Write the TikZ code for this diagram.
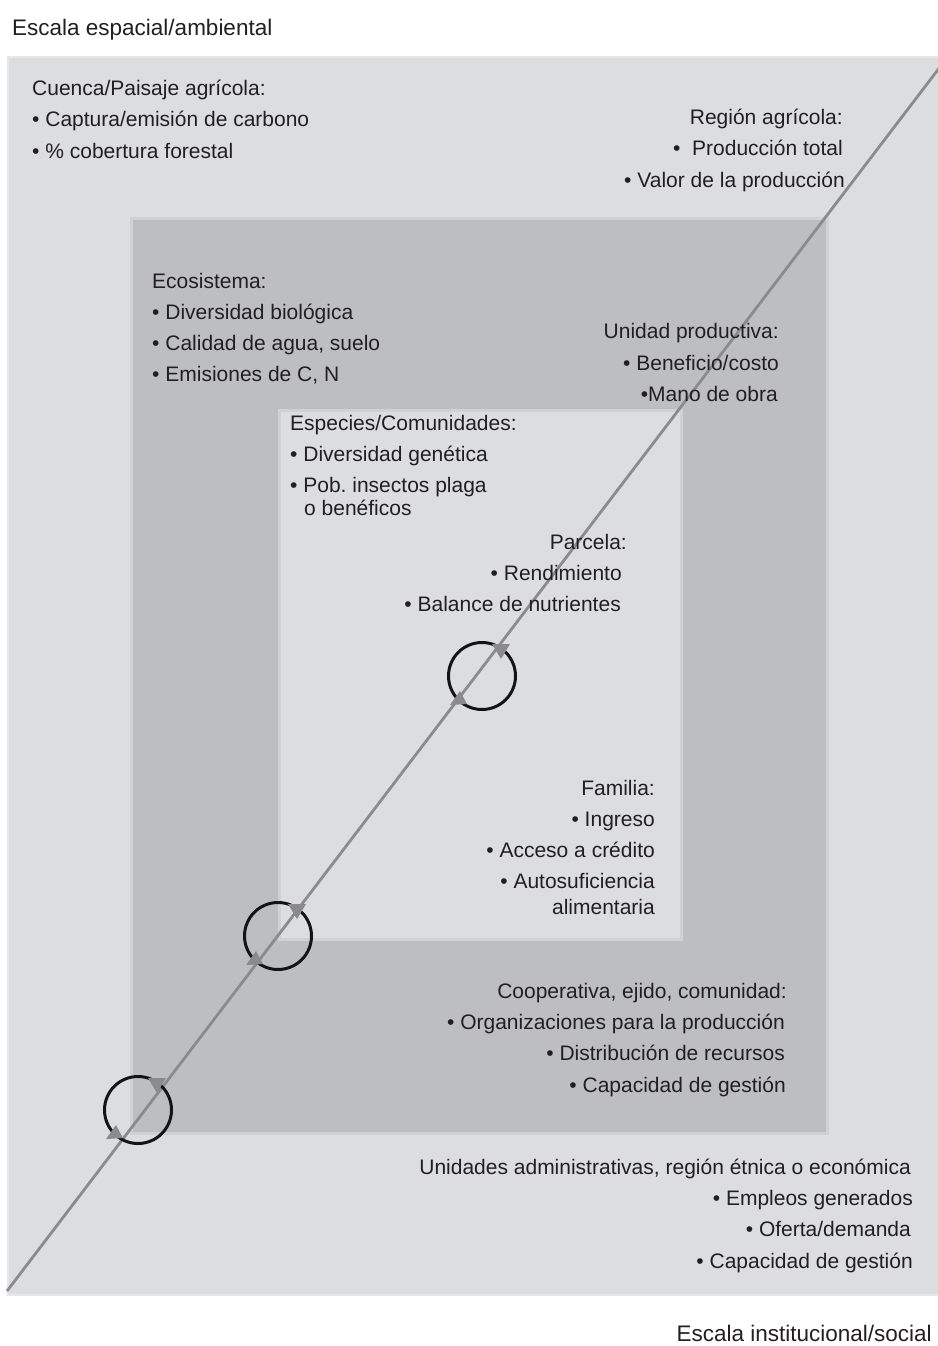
\documentclass[tikz,border=0pt]{standalone}
\usepackage{fontspec}
\setmainfont{Liberation Sans}
\usetikzlibrary{calc}
\frenchspacing
\definecolor{lightbg}{HTML}{DCDDDF}
\definecolor{midbg}{HTML}{BDBEC1}
\definecolor{edgec}{HTML}{D0D1D3}
\definecolor{outedge}{HTML}{E6E7E8}
\definecolor{linec}{HTML}{8B8B8E}
\definecolor{txt}{HTML}{231F20}
\begin{document}
\begin{tikzpicture}[x=1pt,y=-1pt,
  lbl/.style={font=\fontsize{21}{31}\selectfont, text=txt, inner sep=0pt},
  L/.style={lbl, anchor=base west},
  R/.style={lbl, anchor=base east},
  axislbl/.style={font=\fontsize{22.5}{27}\selectfont, text=txt, inner sep=0pt},
  ring/.style={circle, draw=black!92, line width=3pt, minimum size=67pt, inner sep=0pt},
  diag/.style={draw=linec, line width=2.8pt},
  tipf/.style={fill=linec},
  lightbox/.style={fill=lightbg, draw=edgec, line width=3pt},
  midbox/.style={fill=midbg, draw=edgec, line width=3pt}]
\useasboundingbox (0,0) rectangle (937,1346);
\fill[white] (0,0) rectangle (937,1346);
% boxes
\filldraw[fill=lightbg, draw=outedge, line width=2pt] (8,57) rectangle (945,1295);
\filldraw[midbox] (131,218) rectangle (827,1133);
\filldraw[lightbox] (279,410) rectangle (681,939);
% diagonal
\coordinate (lb) at (7,1291);
\coordinate (rt) at (940,67);
\draw[diag] (lb) -- (rt);
% circles
\node[ring] (c1) at (482,676) {};
\node[ring] (c2) at (278,936) {};
\node[ring] (c3) at (138,1110) {};
\foreach \c in {c1,c2,c3}{
  \fill[tipf] ($(\c)+(10,-32)$) -- ($(\c)+(28,-32)$) -- ($(\c)+(19,-17)$) -- cycle;
  \fill[tipf] ($(\c)+(-22,15)$) -- ($(\c)+(-15,28)$) -- ($(\c)+(-32,29)$) -- cycle;
}
% axis labels
\node[axislbl, anchor=base west] (ax1) at (12,36) {Escala espacial/ambiental};
\node[axislbl, anchor=base east] (ax2) at (932,1341) {Escala institucional/social};
% outer top-left
\node[L] (a1) at (32,95) {Cuenca/Paisaje agrícola:};
\node[L] (a2) at (32,126) {• Captura/emisión de carbono};
\node[L] (a3) at (32,158) {• \% cobertura forestal};
% outer top-right
\node[R] (b1) at (843,124) {Región agrícola:};
\node[R] (b2) at (843,155) {•\ \ Producción total};
\node[R] (b3) at (845,187) {• Valor de la producción};
% middle left
\node[L] (m1) at (152,288) {Ecosistema:};
\node[L] (m2) at (152,319) {• Diversidad biológica};
\node[L] (m3) at (152,350) {• Calidad de agua, suelo};
\node[L] (m4) at (152,381) {• Emisiones de C, N};
% middle right
\node[R] (u1) at (779,338) {Unidad productiva:};
\node[R] (u2) at (779,370) {• Beneficio/costo};
\node[R] (u3) at (778,401) {•Mano de obra};
% inner left
\node[L] (e1) at (290,430) {Especies/Comunidades:};
\node[L] (e2) at (290,461) {• Diversidad genética};
\node[L] (e3) at (290,492) {• Pob.\ insectos plaga};
\node[L] (e4) at (304,515) {o benéficos};
% parcela
\node[R] (p1) at (627,549) {Parcela:};
\node[R] (p2) at (622,580) {• Rendimiento};
\node[R] (p3) at (621,611) {• Balance de nutrientes};
% familia
\node[R] (f1) at (655,795) {Familia:};
\node[R] (f2) at (655,826) {• Ingreso};
\node[R] (f3) at (655,857) {• Acceso a crédito};
\node[R] (f4) at (655,888) {• Autosuficiencia};
\node[R] (f5) at (655,914) {alimentaria};
% cooperativa
\node[R] (k1) at (787,998) {Cooperativa, ejido, comunidad:};
\node[R] (k2) at (785,1029) {• Organizaciones para la producción};
\node[R] (k3) at (785,1060) {• Distribución de recursos};
\node[R] (k4) at (786,1092) {• Capacidad de gestión};
% bottom
\node[R] (d1) at (911,1174) {Unidades administrativas, región étnica o económica};
\node[R] (d2) at (913,1205) {• Empleos generados};
\node[R] (d3) at (911,1236) {• Oferta/demanda};
\node[R] (d4) at (913,1268) {• Capacidad de gestión};
\end{tikzpicture}
\end{document}
